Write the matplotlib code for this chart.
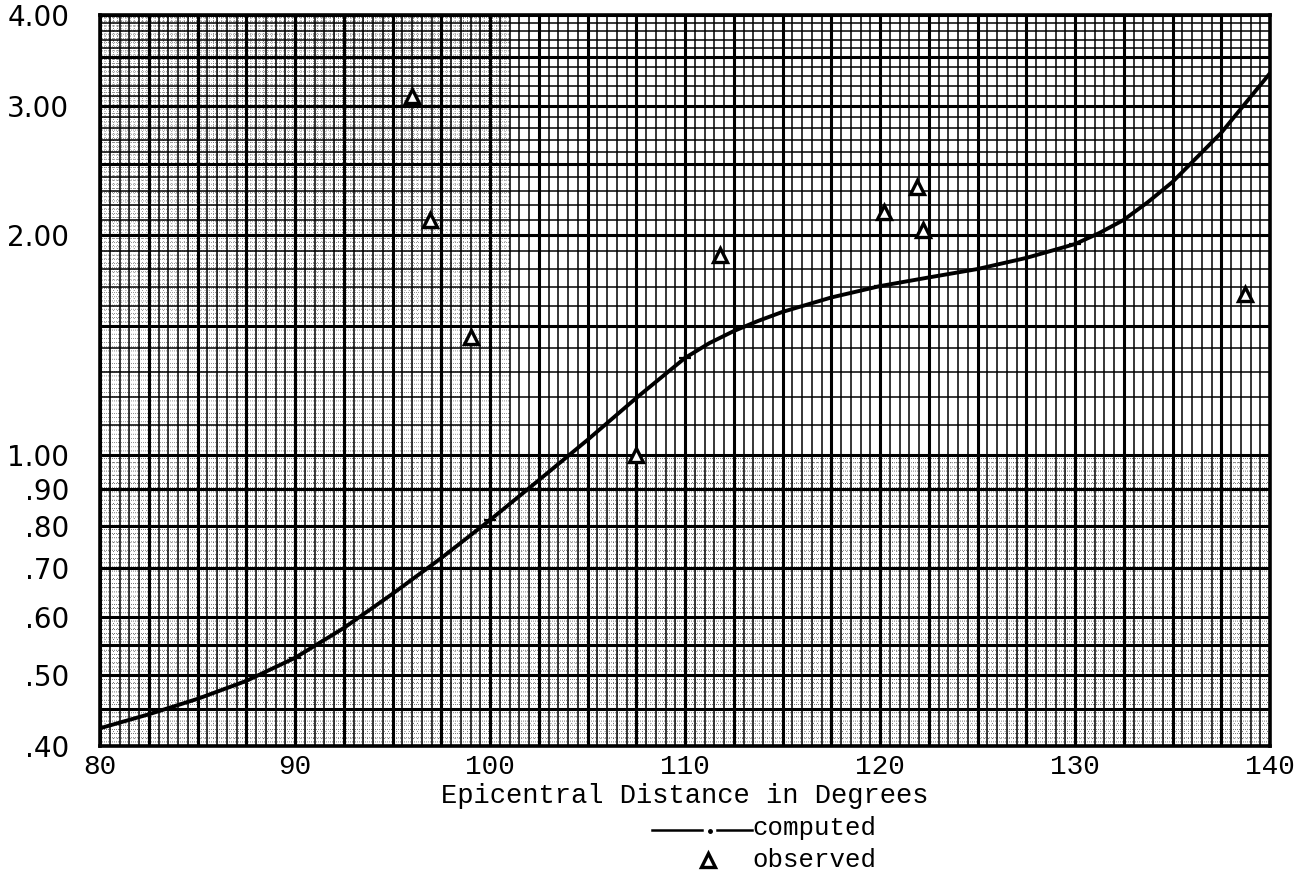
import numpy as np
import matplotlib.pyplot as plt
from matplotlib.lines import Line2D

# computed amplitude curve (denser near the bends)
dist_computed = [80, 82.5, 85, 87.5, 90, 92.5, 95, 97.5, 100, 102.5, 105,
                 107.5, 108.75, 110, 111.25, 112.5, 113.75, 115, 117.5, 120,
                 122.5, 125, 127.5, 130, 131.25, 132.5, 133.75, 135, 137.5, 140]
amp_computed = [0.423, 0.442, 0.464, 0.491, 0.528, 0.580, 0.646, 0.723,
                0.815, 0.924, 1.049, 1.197, 1.275, 1.358, 1.423, 1.478,
                1.526, 1.570, 1.643, 1.703, 1.750, 1.797, 1.861, 1.944,
                2.013, 2.098, 2.220, 2.364, 2.76, 3.33]

# points where the computed values are ticked on the curve
dist_marked = [90, 100, 110, 120, 130]
amp_marked = [0.528, 0.815, 1.358, 1.703, 1.944]

# observed values (triangles)
dist_observed = [96.0, 96.9, 99.0, 107.5, 111.8, 120.2, 121.9, 122.2, 138.7]
amp_observed = [3.10, 2.10, 1.45, 1.00, 1.88, 2.15, 2.33, 2.03, 1.66]

x_ticks = [80, 90, 100, 110, 120, 130, 140]
y_ticks = [4.0, 3.0, 2.0, 1.0, 0.9, 0.8, 0.7, 0.6, 0.5, 0.4]
y_labels = ["4.00", "3.00", "2.00", "1.00", ".90", ".80", ".70", ".60", ".50", ".40"]

W, H = 1306, 877
fig = plt.figure(figsize=(W / 100, H / 100), dpi=100)
ax = fig.add_axes([100 / W, 1 - 746 / H, 1170 / W, 731 / H])
ax.set_yscale("log")
ax.set_xlim(80, 140)
ax.set_ylim(0.4, 4.0)

# --- graph paper ---
ink = "black"
dots = (0, (1, 4))
fine_x = np.arange(80, 140.001, 0.1)
ax.vlines(fine_x, 0.4, 1.0, colors="0.25", linestyles=dots, lw=0.6, zorder=1)
ax.vlines(fine_x[fine_x < 101], 1.0, 4.0, colors="0.4", linestyles=dots, lw=0.6, zorder=1)
ax.hlines(np.arange(0.40, 0.6, 0.01), 80, 140, colors="0.25", linestyles=dots, lw=0.6, zorder=1)
ax.hlines(np.arange(0.60, 1.0, 0.02), 80, 140, colors="0.25", linestyles=dots, lw=0.6, zorder=1)
ax.hlines(np.arange(1.5, 4.0, 0.02), 80, 101, colors="0.4", linestyles=dots, lw=0.6, zorder=1)

ax.vlines(np.arange(80, 140.001, 0.5), 0.4, 4.0, colors=ink, lw=1.1, zorder=2)
ax.hlines(np.arange(1.0, 4.0, 0.1), 80, 140, colors=ink, lw=1.1, zorder=2)

major_y = [0.4, 0.45, 0.5, 0.55, 0.6, 0.7, 0.8, 0.9, 1.0, 1.5, 2.0, 2.5, 3.0, 3.5, 4.0]
ax.vlines(np.arange(80, 140.001, 2.5), 0.4, 4.0, colors=ink, lw=2.2, zorder=3)
ax.hlines(major_y, 80, 140, colors=ink, lw=2.2, zorder=3)

for s in ax.spines.values():
    s.set_linewidth(2.6)

# --- data ---
ax.plot(dist_computed, amp_computed, color=ink, lw=2.8, zorder=5,
        solid_capstyle="round", solid_joinstyle="round")
ax.plot(dist_marked, amp_marked, ls="none", marker="+", ms=9, mew=1.6,
        color=ink, zorder=6)
ax.plot(dist_observed, amp_observed, ls="none", marker="^", ms=10, mew=2.4,
        mfc="white", mec=ink, zorder=7)

# --- ticks and labels ---
ax.set_xticks(x_ticks)
ax.set_xticklabels([str(v) for v in x_ticks], family="Liberation Mono", fontsize=20)
ax.set_yticks(y_ticks)
ax.set_yticklabels(y_labels, family="DejaVu Sans", fontsize=20)
ax.minorticks_off()
ax.tick_params(axis="both", length=0)
ax.tick_params(axis="x", pad=6)
ax.tick_params(axis="y", pad=22)

ax.set_xlabel("Epicentral Distance in Degrees", family="Liberation Mono",
              fontsize=19.5, labelpad=2)

# --- hand-made legend below the axis label ---
def fx(px):
    return px / W

def fy(py):
    return 1 - py / H

fig.add_artist(Line2D([fx(652), fx(702)], [fy(830), fy(830)], color=ink, lw=1.8))
fig.add_artist(Line2D([fx(710)], [fy(831)], marker="o", ms=2.5, color=ink))
fig.add_artist(Line2D([fx(717), fx(752)], [fy(830), fy(830)], color=ink, lw=1.8))
fig.text(fx(752), fy(828), "computed", family="Liberation Mono", fontsize=18.5,
         va="center", ha="left")
fig.add_artist(Line2D([fx(708)], [fy(860)], marker="^", ms=10, mew=2.4,
                      mfc="white", mec=ink))
fig.text(fx(752), fy(860), "observed", family="Liberation Mono", fontsize=18.5,
         va="center", ha="left")

fig.savefig("out.png", dpi=100)
